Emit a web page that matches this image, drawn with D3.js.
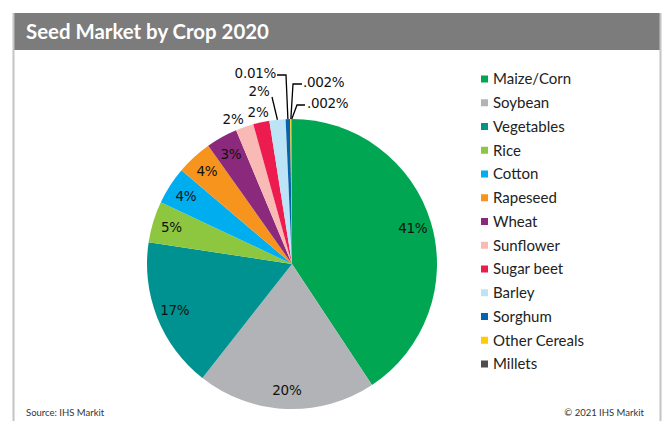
<!DOCTYPE html>
<html>
<head>
<meta charset="utf-8">
<script src="https://d3js.org/d3.v7.min.js"></script>
<style>
    body { margin: 0; background: #fff; }
</style>
</head>
<body>
<div id="chart"></div>
<script>
// Data
const crops = ["Maize/Corn", "Soybean", "Vegetables", "Rice", "Cotton", "Rapeseed", "Wheat",
    "Sunflower", "Sugar beet", "Barley", "Sorghum", "Other Cereals", "Millets"]
const shares = [40.7, 19.9, 16.8, 4.6, 4.2, 4.0, 3.5, 2.0, 1.8, 1.8, 0.5, 0.15, 0.05]
const shareLabels = ["41%", "20%", "17%", "5%", "4%", "4%", "3%", "2%", "2%", "2%", "0.01%", ".002%", ".002%"]
const colors = ["#00a651", "#b1b3b6", "#009290", "#8dc63f", "#00aeef", "#f7941d", "#8b2a7c",
    "#f9bab6", "#ed1c4f", "#bde3f6", "#0464b0", "#ffcc00", "#4d4d4f"]

const w = 662
const h = 421
const cx = 292
const cy = 264
const r = 145

const svg = d3.select("#chart").append("svg")
    .attr("width", w)
    .attr("height", h)

// Frame + title bar
svg.append("rect").attr("x", 13).attr("y", 13).attr("width", 647).attr("height", 37).attr("fill", "#7b7c7b")
svg.append("line").attr("x1", 13.5).attr("x2", 13.5).attr("y1", 13).attr("y2", h).attr("stroke", "#c4c4c4").attr("stroke-width", 2)
svg.append("line").attr("x1", 660.5).attr("x2", 660.5).attr("y1", 13).attr("y2", h).attr("stroke", "#c4c4c4").attr("stroke-width", 2)
svg.append("text")
    .attr("x", 26).attr("y", 39)
    .attr("fill", "#fff")
    .style("font-family", "Lato")
    .style("font-weight", "bold")
    .style("font-size", "20.4px")
    .text("Seed Market by Crop 2020")

// Pie
const data = crops.map((c, i) => ({ crop: c, value: shares[i], label: shareLabels[i], color: colors[i], i: i }))
const pie = d3.pie().value(d => d.value).sort(null)
const arc = d3.arc().innerRadius(0).outerRadius(r)
const labelArc = d3.arc().innerRadius(r * 0.87).outerRadius(r * 0.87)
const arcs = pie(data)

const g = svg.append("g").attr("transform", `translate(${cx},${cy})`)
g.selectAll("path")
    .data(arcs)
    .enter()
    .append("path")
    .attr("d", arc)
    .attr("fill", d => d.data.color)

// inside labels (first 7 slices)
g.selectAll("text.inside")
    .data(arcs.filter(d => d.data.i < 7))
    .enter()
    .append("text")
    .attr("class", "inside")
    .attr("transform", d => `translate(${labelArc.centroid(d)})`)
    .attr("text-anchor", "middle")
    .attr("dy", "0.36em")
    .style("font-family", "DejaVu Sans")
    .style("font-size", "13.5px")
    .style("letter-spacing", "-0.3px")
    .attr("fill", "#111")
    .text(d => d.data.label)

// outside labels for the thin slices: label spot, anchor, leader elbow (relative to centre)
const outside = [
    { i: 7, x: -59, y: -145, anchor: "middle" },
    { i: 8, x: -34, y: -152, anchor: "middle" },
    { i: 9, x: -33, y: -173, anchor: "middle", lead: [[-20, -167]] },
    { i: 10, x: -16, y: -191, anchor: "end", lead: [[-6, -189], [-15, -189]] },
    { i: 11, x: 11, y: -182, anchor: "start", lead: [[1, -180], [10, -180]] },
    { i: 12, x: 15, y: -161, anchor: "start", lead: [[5, -159], [13, -159]] }
]

outside.forEach(o => {
    const a = arcs[o.i]
    if (o.lead) {
        const mid = (a.startAngle + a.endAngle) / 2
        const edge = [Math.sin(mid) * r, -Math.cos(mid) * r]
        g.append("path")
            .attr("d", d3.line()([edge].concat(o.lead)))
            .attr("fill", "none")
            .attr("stroke", "#000")
            .attr("stroke-width", 1.3)
    }
    g.append("text")
        .attr("x", o.x).attr("y", o.y)
        .attr("text-anchor", o.anchor)
        .attr("dy", "0.36em")
        .style("font-family", "DejaVu Sans")
        .style("font-size", "13.5px")
        .style("letter-spacing", "-0.3px")
        .attr("fill", "#111")
        .text(a.data.label)
})

// Legend
const legend = svg.append("g").attr("transform", "translate(481,79)")
const item = legend.selectAll("g")
    .data(data)
    .enter()
    .append("g")
    .attr("transform", (d, i) => `translate(0,${i * 23.75})`)
item.append("rect")
    .attr("x", 0).attr("y", -3.5)
    .attr("width", 7).attr("height", 7)
    .attr("fill", d => d.color)
item.append("text")
    .attr("x", 12)
    .attr("dy", "0.36em")
    .style("font-family", "Lato")
    .style("font-size", "15px")
    .attr("fill", "#222")
    .text(d => d.crop)

// Footer
svg.append("text")
    .attr("x", 26).attr("y", 416)
    .style("font-family", "Lato")
    .style("font-size", "9.5px")
    .attr("fill", "#333")
    .text("Source: IHS Markit")
svg.append("text")
    .attr("x", 644).attr("y", 416)
    .attr("text-anchor", "end")
    .style("font-family", "Lato")
    .style("font-size", "9.5px")
    .attr("fill", "#333")
    .text("© 2021 IHS Markit")
</script>
</body>
</html>
